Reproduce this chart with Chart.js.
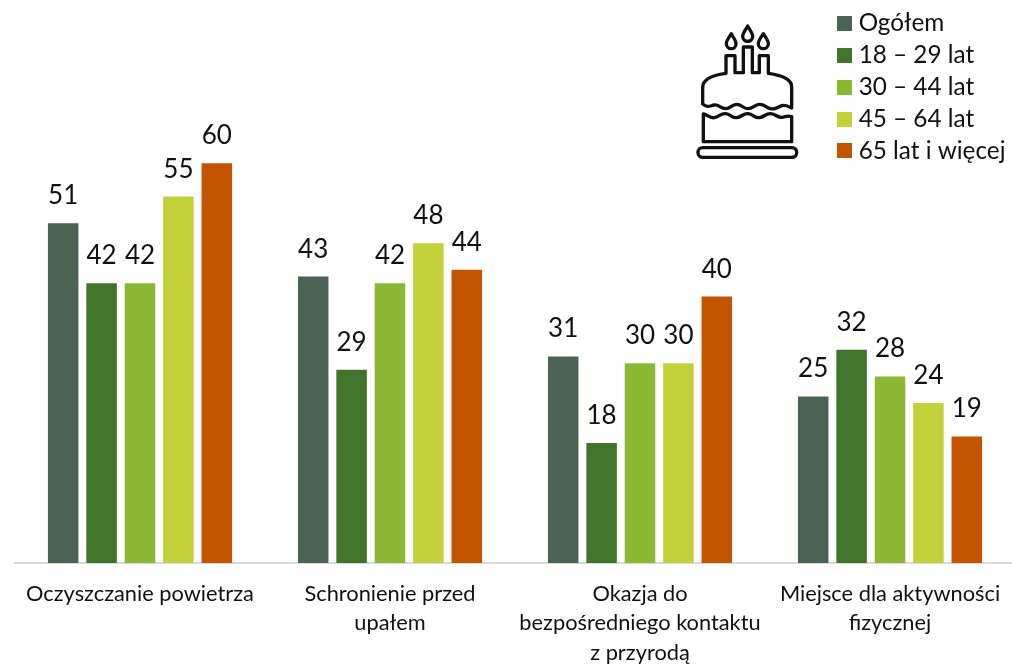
<!DOCTYPE html>
<html lang="pl"><head><meta charset="utf-8">
<style>html,body{margin:0;padding:0;background:#fff;overflow:hidden;width:1012px;height:667px}
#w{position:relative;width:1012px;height:667px;overflow:hidden}
canvas{position:absolute;left:0;top:0}
svg{position:absolute;left:680px;top:0}</style>
<script src="https://cdn.jsdelivr.net/npm/chart.js@4/dist/chart.umd.min.js"></script>
</head><body><div id="w"><canvas id="c" width="1030" height="667" style="width:1030px;height:667px"></canvas>
<svg width="332" height="170" viewBox="0 0 996 510" fill="none" stroke="#111" stroke-width="10" stroke-linejoin="round" stroke-linecap="round">
<rect x="54" y="443" width="296" height="29" rx="14"/>
<path d="M70 342 C85 345 90 355 103 353 C118 350 120 340 137 341 C152 342 155 354 170 353 C186 351 188 340 204 341 C220 342 222 354 238 353 C254 351 256 340 272 341 C288 342 292 353 306 352 C318 350 322 345 335 350 M70 342 V425 H335 V350"/>
<path d="M138 220 V167 H165 V218 H190 V141 H217 V218 H238 V167 H265 V220 C300 225 335 235 335 260 V324 C322 318 318 314 306 317 C290 322 288 330 272 326 C256 322 254 312 238 313 C222 314 220 326 204 326 C188 326 186 313 170 313 C154 313 152 326 137 326 C120 326 118 313 103 315 C90 317 85 325 68 312 V262 C68 235 100 225 138 220 Z"/>
<path d="M154 101 C146 114 139 122 139 131 C139 140 146 146 154 146 C162 146 168 140 168 131 C168 122 161 114 154 101 Z"/>
<path d="M203 78 C195 92 188 100 188 109 C188 118 195 124 203 124 C211 124 218 118 218 109 C218 100 211 92 203 78 Z"/>
<path d="M250 101 C242 114 235 122 235 131 C235 140 242 146 250 146 C258 146 265 140 265 131 C265 122 258 114 250 101 Z"/>
</svg></div>
<script>
const categories = [["Oczyszczanie powietrza"],["Schronienie przed","upałem"],["Okazja do","bezpośredniego kontaktu","z przyrodą"],["Miejsce dla aktywności","fizycznej"]];
const seriesNames = ["Ogółem","18 – 29 lat","30 – 44 lat","45 – 64 lat","65 lat i więcej"];
const ogolem = [51,43,31,25];
const age18 = [42,29,18,32];
const age30 = [42,42,30,28];
const age45 = [55,48,30,24];
const age65 = [60,44,40,19];
const colors = ["#4A6355","#40752B","#8AB833","#C2D13A","#C45500"];
const seriesValues = [ogolem,age18,age30,age45,age65];
const FONT = "Lato, Carlito, sans-serif";

function swatch(color){
  const s = document.createElement('canvas'); s.width = 15; s.height = 15;
  const g = s.getContext('2d'); g.fillStyle = color; g.fillRect(0,0,15,15);
  return s;
}
const valueLabels = { id:'valueLabels', afterDatasetsDraw(chart){
  const ctx = chart.ctx; ctx.save();
  ctx.font = "26px "+FONT; ctx.fillStyle="#111"; ctx.textAlign="center"; ctx.textBaseline="alphabetic";
  chart.data.datasets.forEach((d,i)=>chart.getDatasetMeta(i).data.forEach((b,j)=>ctx.fillText(d.data[j],b.x,b.y-19)));
  ctx.restore();
}};
function setLegendBox(l){ l.left=834; l.right=1028; l.top=4; l.bottom=180; }
const placeLegend = { id:'placeLegend',
  afterInit(chart){ Chart.layouts.removeBox(chart, chart.legend); },
  beforeLayout(chart){
    const l = chart.legend; l.options = chart.options.plugins.legend;
    l.update(194,176,{left:0,right:0,top:0,bottom:0});
    setLegendBox(l);
  },
  afterDatasetsDraw(chart){ const l = chart.legend; setLegendBox(l); l.draw(); }
};
new Chart(document.getElementById('c'),{
  type:'bar',
  data:{labels:categories,datasets:seriesNames.map((n,i)=>({label:n,data:seriesValues[i],backgroundColor:colors[i],borderWidth:0,categoryPercentage:.768,barPercentage:.795}))},
  plugins:[valueLabels,placeLegend],
  options:{responsive:false,animation:false,
    layout:{padding:{left:15,right:15,top:30,bottom:0}},
    plugins:{tooltip:{enabled:false},
      legend:{position:'right',align:'start',labels:{usePointStyle:true,boxWidth:5,boxHeight:15,padding:7.5,color:"#111",font:{family:FONT,size:24.3},
        generateLabels(chart){
          const items = Chart.defaults.plugins.legend.labels.generateLabels(chart);
          items.forEach((it,i)=>{ it.pointStyle = swatch(colors[i]); });
          return items;
        }}}},
    scales:{
      x:{grid:{display:false,drawTicks:false},border:{color:"#D9D9D9",width:2},
        afterFit(s){ s.height = 104; },
        ticks:{color:"#111",padding:16,maxRotation:0,autoSkip:false,font:{family:FONT,size:21.8,lineHeight:1.35}}},
      y:{min:0,max:80,display:false}
    }}
});
</script></body></html>
